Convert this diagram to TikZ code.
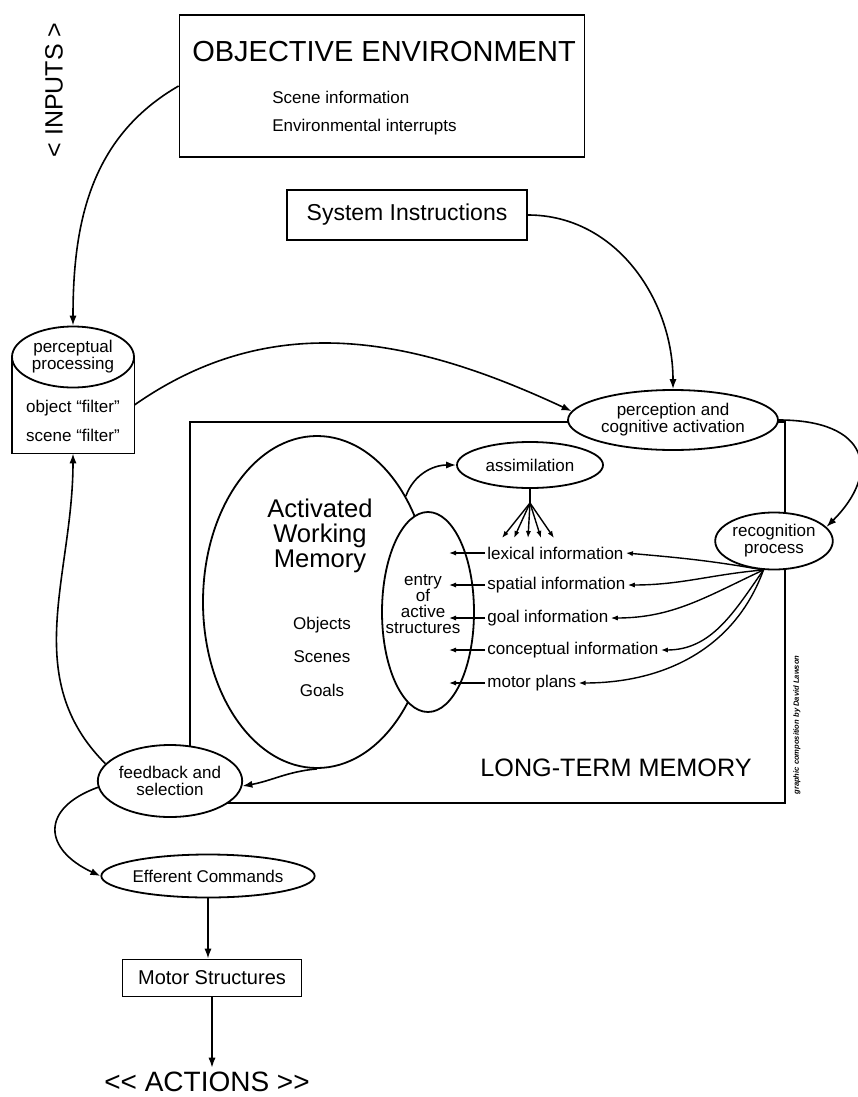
\documentclass[tikz,border=0pt]{standalone}
\usepackage{fontspec}
\setmainfont{Liberation Sans}
\usetikzlibrary{shapes.geometric,arrows.meta}
\tikzset{
  box/.style={draw,line width=0.9pt,inner sep=0pt},
  oval/.style={draw,line width=0.9pt,ellipse,fill=white,inner sep=0pt,align=center,font=\fontsize{8.5}{8.5}\selectfont},
  lbl/.style={font=\fontsize{8.5}{9}\selectfont,inner sep=1pt},
  arr/.style={line width=0.8pt,-{Latex[length=5pt,width=3.6pt]}},
  farr/.style={line width=0.7pt,-{Latex[length=3.5pt,width=2.6pt]}},
}
\begin{document}
\begin{tikzpicture}[x=0.5pt,y=0.5pt]
\useasboundingbox (0,0) rectangle (857,-1097);
\node[rotate=90,font=\fontsize{12.5}{12.5}\selectfont] (inp) at (54,-90) {< INPUTS >};
\node[box,minimum width=202.5pt,minimum height=71pt] (env) at (382,-86) {};
\node[font=\fontsize{14.5}{14.5}\selectfont] (envt) at (384,-52) {OBJECTIVE ENVIRONMENT};
\node[lbl,anchor=west] (scn) at (270,-97) {Scene information};
\node[lbl,anchor=west] (intr) at (270,-127) {Environmental interrupts};
\node[box,minimum width=120pt,minimum height=25pt,font=\fontsize{11.5}{11.5}\selectfont] (sys) at (407,-215) {System Instructions};
% perceptual processing
\node[minimum width=61pt,minimum height=48pt,inner sep=0pt] (ppbox) at (73,-405) {};
\draw[line width=0.9pt] (ppbox.north west) |- (ppbox.south east) -- (ppbox.north east);
\node[oval,minimum width=61pt,minimum height=30.5pt] (pp) at (73,-357) {perceptual\\processing};
\node[lbl] (objf) at (73,-408) {object “filter”};
\node[lbl] (scnf) at (73,-435) {scene “filter”};
% long-term memory
\node[box,minimum width=297.5pt,minimum height=190.5pt] (ltm) at (487.5,-612.5) {};
\node[font=\fontsize{12.6}{12.6}\selectfont] (ltmt) at (616,-768) {LONG-TERM MEMORY};
\node[rotate=90,font=\fontsize{3.8}{4}\selectfont\bfseries\itshape] (cred) at (797,-725) {graphic composition by David Lawson};
\node[oval,minimum width=105pt,minimum height=30pt] (perc) at (673,-420) {perception and\\cognitive activation};
\node[oval,minimum width=114pt,minimum height=166pt] (awm) at (317,-602) {};
\node[align=center,font=\fontsize{12.8}{12.5}\selectfont] (awmt) at (320,-536) {Activated\\Working\\Memory};
\node[lbl] (objs) at (322,-625) {Objects};
\node[lbl] (scns) at (322,-657) {Scenes};
\node[lbl] (gols) at (322,-690) {Goals};
\node[oval,minimum width=46pt,minimum height=100pt] (entry) at (428,-612) {};
\node[lbl,align=center,font=\fontsize{8.5}{8}\selectfont] (entryt) at (423,-604) {entry\\of\\active\\structures};
\node[oval,minimum width=73pt,minimum height=23pt] (assim) at (530,-465) {assimilation};
\node[oval,minimum width=52.5pt,minimum height=28.5pt] (recog) at (774,-541) {recognition\\process};
\node[oval,minimum width=69pt,minimum height=36pt] (fb) at (170,-781) {feedback and\\selection};
\node[oval,minimum width=86.5pt,minimum height=21.5pt] (eff) at (208,-876) {Efferent Commands};
\node[box,minimum width=89.5pt,minimum height=18.5pt,font=\fontsize{10}{10}\selectfont] (motor) at (212,-978) {Motor Structures};
\node[font=\fontsize{14}{14}\selectfont,inner sep=2pt] (act) at (207,-1082) {<\kern0pt< ACTIONS >\kern0pt>};
% information from long-term memory
\foreach \n/\y/\t in {lex/553/lexical information,spa/585/spatial information,goal/618/goal information,conc/650/conceptual information,mot/683/motor plans}{
  \node[lbl,anchor=west] (\n) at (485,-\y) {\t};
  \coordinate (\n e) at (449,-\y);
  \draw[farr] (\n.west) -- (\n e);
}
\foreach \n/\a/\b in {lex/170/-5,spa/185/0,goal/205/0,conc/235/0,mot/250/0}
  \draw[farr] (recog.-110) to[out=\a,in=\b] (\n.east);
\coordinate (fan) at (530,-503);
\draw[line width=0.7pt] (assim.south) -- (fan);
\foreach \x [count=\i] in {502,514,528,541,554}{
  \coordinate (f\i) at (\x,-538);
  \draw[farr] (fan) -- (f\i);
}
% connectors
\draw[arr] (env.west) to[out=210,in=90] (pp.north);
\draw[arr] (sys.east) to[out=0,in=90] (perc.north);
\draw[arr] (ppbox.east) to[out=35,in=155] (perc.175);
\draw[arr] (perc.east) .. controls +(90,0) and +(55,55) .. (recog.15);
\draw[arr] (awm.50) to[out=70,in=180] (assim.west);
\draw[arr] (awm.south) to[out=185,in=10] (fb.-4);
\draw[arr] (fb.165) to[out=135,in=-90] (ppbox.south);
\draw[arr] (fb.185) to[out=200,in=155,looseness=1.8] (eff.west);
\draw[arr] (eff.south) -- (eff.south |- motor.north);
\draw[arr] (motor.south) -- (motor.south |- act.north);
\end{tikzpicture}
\end{document}
